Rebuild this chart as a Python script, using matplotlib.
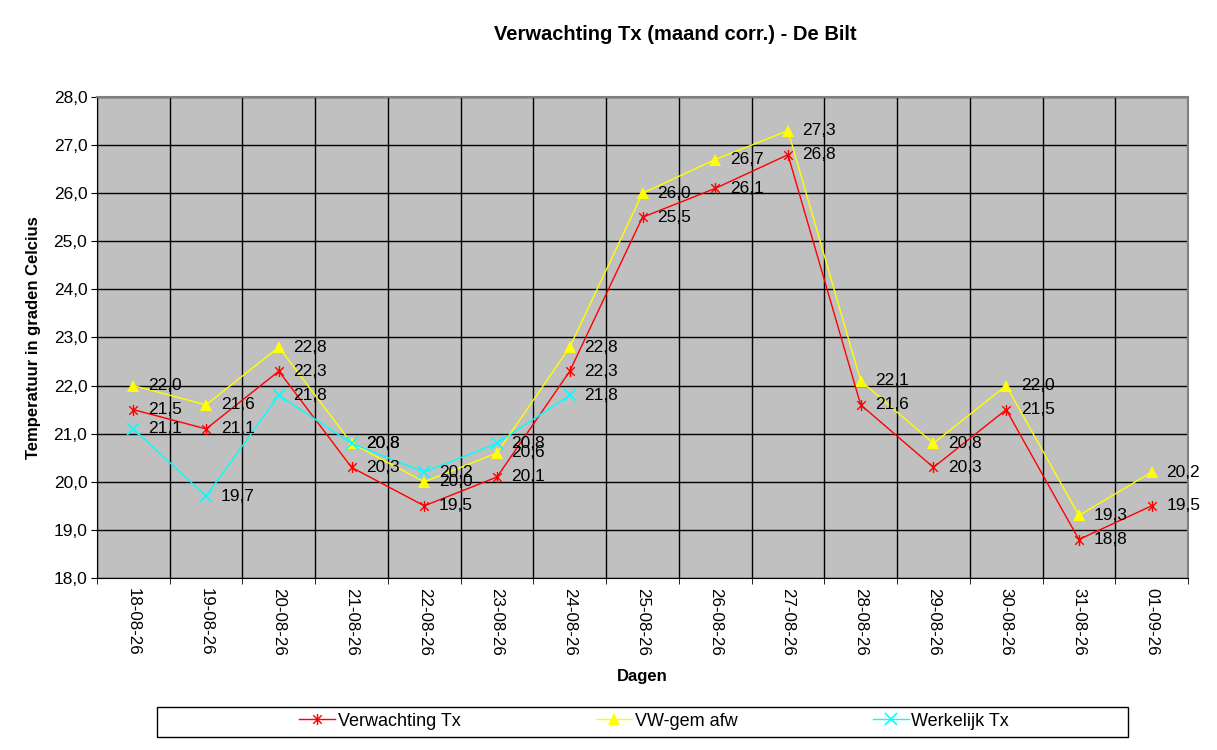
import matplotlib
matplotlib.use("Agg")
import matplotlib.pyplot as plt
from matplotlib.path import Path
from matplotlib.patches import Rectangle

plt.rcParams['font.family'] = ['Liberation Sans', 'DejaVu Sans']

# data
dagen = ["18-08-26", "19-08-26", "20-08-26", "21-08-26", "22-08-26",
         "23-08-26", "24-08-26", "25-08-26", "26-08-26", "27-08-26",
         "28-08-26", "29-08-26", "30-08-26", "31-08-26", "01-09-26"]
verwachting = [21.5, 21.1, 22.3, 20.3, 19.5, 20.1, 22.3, 25.5, 26.1, 26.8,
               21.6, 20.3, 21.5, 18.8, 19.5]
vw_gem = [22.0, 21.6, 22.8, 20.8, 20.0, 20.6, 22.8, 26.0, 26.7, 27.3,
          22.1, 20.8, 22.0, 19.3, 20.2]
werkelijk = [21.1, 19.7, 21.8, 20.8, 20.2, 20.8, 21.8]

# excel style star marker: x plus vertical bar
star = Path([(-1, -1), (1, 1), (-1, 1), (1, -1), (0, -1.3), (0, 1.3)],
            [Path.MOVETO, Path.LINETO, Path.MOVETO, Path.LINETO,
             Path.MOVETO, Path.LINETO])

W, H = 1217, 750
fig = plt.figure(figsize=(W / 100, H / 100), dpi=100)
ax = fig.add_axes([97 / W, 1 - 578 / H, 1091 / W, 481 / H])
ax.set_facecolor('#c0c0c0')

x = list(range(len(dagen)))


def fmt(v):
    return f"{v:.1f}".replace('.', ',')


ax.plot(x, verwachting, color='red', lw=1, marker=star, ms=8, mew=1,
        label='Verwachting Tx', zorder=4)
ax.plot(x, vw_gem, color='yellow', lw=1, marker='^', ms=8, mew=0,
        label='VW-gem afw', zorder=3)
ax.plot(x[:len(werkelijk)], werkelijk, color='cyan', lw=1, marker='x', ms=9,
        mew=1.2, label='Werkelijk Tx', zorder=5)

for series in (verwachting, vw_gem, werkelijk):
    for i, v in enumerate(series):
        ax.annotate(fmt(v), (i, v), xytext=(10.5, 0), textcoords='offset points',
                    va='center', ha='left', fontsize=12.5, color='black', zorder=6)

ax.set_xlim(-0.5, len(dagen) - 0.5)
ax.set_ylim(18, 28)
ax.set_yticks([18 + i for i in range(11)])
ax.set_yticklabels([fmt(18 + i) for i in range(11)], fontsize=12.5)
ax.set_xticks(x)
ax.set_xticklabels(dagen, rotation=-90, fontsize=12.2)
ax.set_xticks([i - 0.5 for i in range(len(dagen) + 1)], minor=True)
ax.tick_params(axis='x', which='major', length=0, pad=7)
ax.tick_params(axis='x', which='minor', length=4, direction='out', color='black')
ax.tick_params(axis='y', length=4, direction='out', pad=3)

ax.grid(True, which='minor', axis='x', color='black', lw=1)
ax.grid(True, which='major', axis='y', color='black', lw=1)
ax.set_axisbelow(True)

for s in ('top', 'right'):
    ax.spines[s].set_color('#808080')
    ax.spines[s].set_linewidth(1.5)
for s in ('left', 'bottom'):
    ax.spines[s].set_color('black')

ax.set_ylabel('Temperatuur in graden Celcius', fontsize=12, fontweight='bold',
              labelpad=9)
ax.set_xlabel('Dagen', fontsize=12, fontweight='bold', labelpad=10)

fig.text(675 / W, 1 - 35 / H, 'Verwachting Tx (maand corr.) - De Bilt',
         ha='center', va='center', fontsize=14.5, fontweight='bold')

# legend box drawn separately, entries centred inside
fig.patches.append(Rectangle((157 / W, 1 - 737 / H), 971 / W, 30 / H,
                             transform=fig.transFigure, fill=False,
                             edgecolor='black', lw=1))
leg = fig.legend(loc='center', bbox_to_anchor=(654 / W, 1 - 721 / H),
                 ncol=3, frameon=False,
                 prop={'family': ['Liberation Sans Narrow', 'Liberation Sans'],
                       'size': 13},
                 handlelength=2.0, handletextpad=0.15, columnspacing=7.5,
                 borderaxespad=0)

fig.savefig('out.png', dpi=100)
